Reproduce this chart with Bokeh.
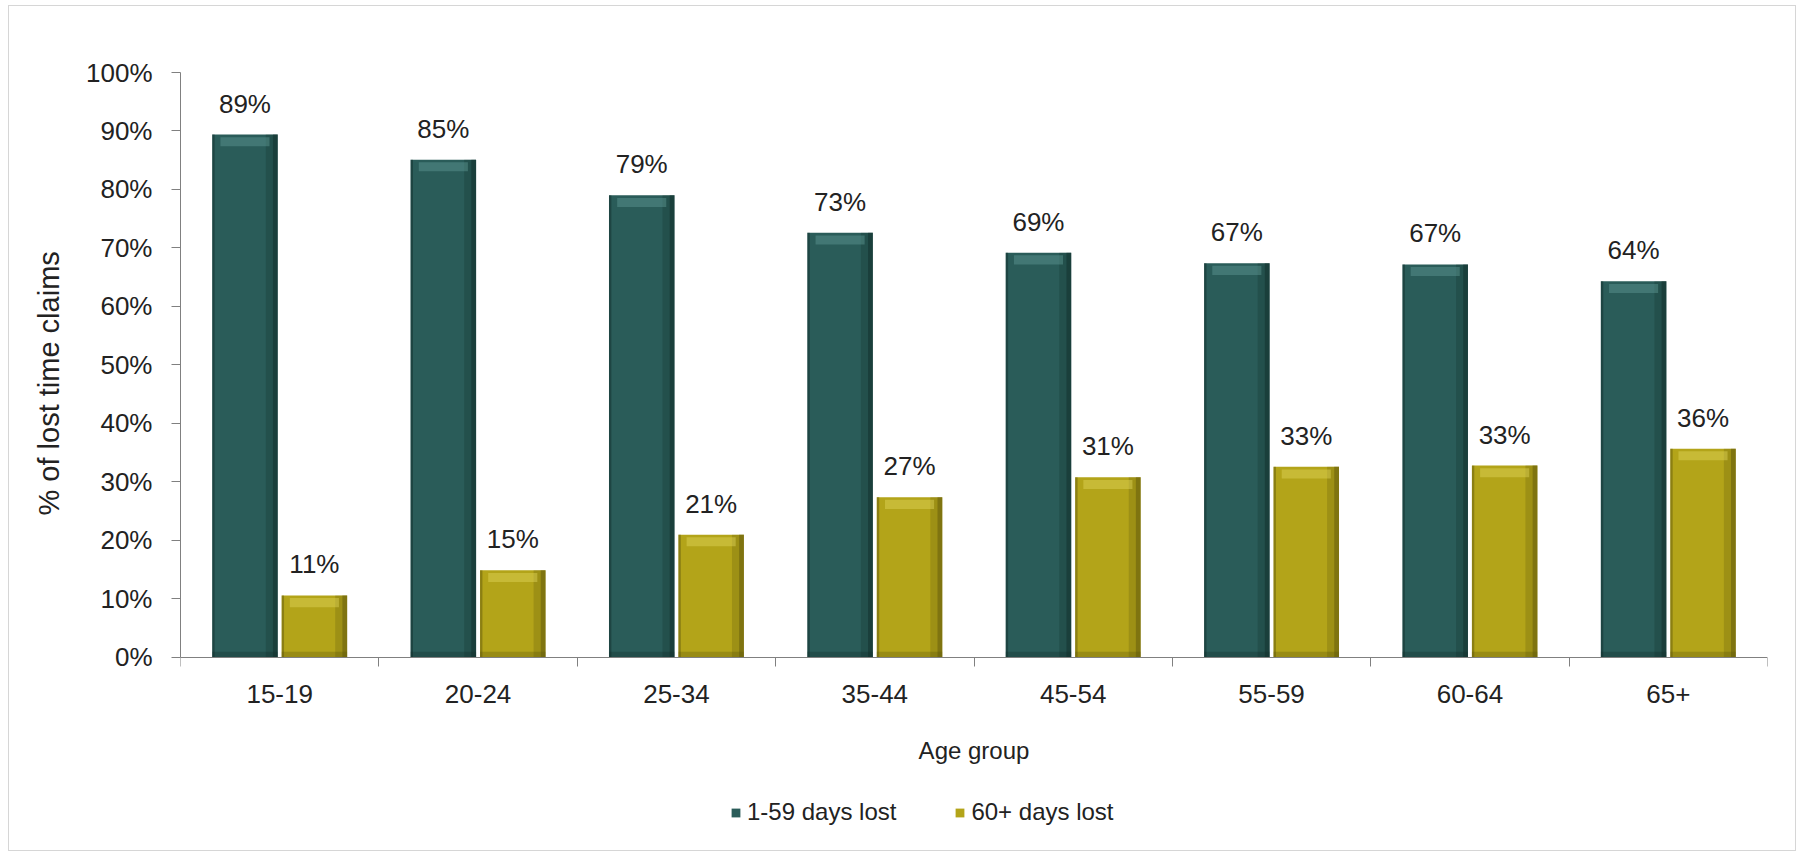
from bokeh.plotting import figure
from bokeh.models import (Range1d, FixedTicker, PrintfTickFormatter, Legend,
                          LegendItem, ColumnDataSource, Title)
from bokeh.transform import dodge
from bokeh.embed import file_html
from bokeh.resources import INLINE
from bokeh.core.properties import value

# ---- data ----
categories = ["15-19", "20-24", "25-34", "35-44", "45-54", "55-59", "60-64", "65+"]
short_loss = [89.4, 85.1, 79.0, 72.6, 69.2, 67.4, 67.2, 64.3]   # 1-59 days lost
long_loss = [10.6, 14.9, 21.0, 27.4, 30.8, 32.6, 32.8, 35.7]    # 60+ days lost
series_names = ["1-59 days lost", "60+ days lost"]
y_ticks = [0, 10, 20, 30, 40, 50, 60, 70, 80, 90, 100]
x_title = "Age group"
y_title = "% of lost time claims"

FONT = "Liberation Sans"
TXT = "#222222"
TEAL, TEAL_DARK, TEAL_LIGHT = "#2a5c59", "#0f2a28", "#5f9a95"
GOLD, GOLD_DARK, GOLD_LIGHT = "#b3a419", "#5a520a", "#e0d45a"

n = len(categories)
centers = [i + 0.5 for i in range(n)]

# frame spans page y 72..836; value 0 sits at page y 657 (585 px per 100 units)
p = figure(width=1788, height=846, output_backend="svg", toolbar_location=None,
           x_range=Range1d(0, n), y_range=Range1d(-30.6, 100),
           min_border_left=171, min_border_right=30,
           min_border_top=66, min_border_bottom=16)
p.styles = {"margin-left": "8px", "margin-top": "5px", "border": "1px solid #d6d6d6"}
p.outline_line_color = None
p.grid.grid_line_color = None
p.background_fill_color = "white"
p.border_fill_color = "white"

W = 0.33
OFF = 0.175


def draw_series(vals, offset, main, dark, light):
    src = ColumnDataSource(dict(
        x=centers, top=vals,
        hl_top=[v - 0.45 for v in vals], hl_bot=[v - 2.0 for v in vals],
        lab=["%d%%" % round(v) for v in vals]))
    r = p.vbar(x=dodge("x", offset, range=p.x_range), top="top", bottom=0, width=W,
               source=src, fill_color=main, line_color=None)
    # bevel shading: right edge
    p.vbar(x=dodge("x", offset + W / 2 - 0.03, range=p.x_range), top="top", bottom=0,
           width=0.06, source=src, fill_color=dark, fill_alpha=0.25, line_color=None)
    p.vbar(x=dodge("x", offset + W / 2 - 0.012, range=p.x_range), top="top", bottom=0,
           width=0.024, source=src, fill_color=dark, fill_alpha=0.45, line_color=None)
    # left edge
    p.vbar(x=dodge("x", offset - W / 2 + 0.006, range=p.x_range), top="top", bottom=0,
           width=0.012, source=src, fill_color=dark, fill_alpha=0.45, line_color=None)
    # bottom band
    p.vbar(x=dodge("x", offset, range=p.x_range), top=1.0, bottom=0, width=W,
           source=src, fill_color=dark, fill_alpha=0.3, line_color=None)
    # top highlight
    p.vbar(x=dodge("x", offset, range=p.x_range), top="hl_top", bottom="hl_bot",
           width=W * 0.75, source=src, fill_color=light, fill_alpha=0.45, line_color=None)
    p.text(x=dodge("x", offset, range=p.x_range), y="top", text="lab", source=src,
           text_align="center", text_baseline="bottom", y_offset=-16,
           text_font=value(FONT), text_font_size="26px", text_color=TXT)
    return r


r1 = draw_series(short_loss, -OFF, TEAL, TEAL_DARK, TEAL_LIGHT)
r2 = draw_series(long_loss, OFF, GOLD, GOLD_DARK, GOLD_LIGHT)

# ---- x axis: line and boundary ticks at value 0 ----
xa = p.xaxis[0]
xa.fixed_location = 0
xa.ticker = FixedTicker(ticks=[], minor_ticks=list(range(n + 1)))
xa.major_tick_line_color = None
xa.minor_tick_in = 0
xa.minor_tick_out = 9
xa.minor_tick_line_color = "#808080"
xa.axis_line_color = "#808080"
xa.major_label_standoff = 0

# category labels and x title under the axis line
cat_src = ColumnDataSource(dict(x=centers, y=[0] * n, text=categories))
p.text(x="x", y="y", text="text", source=cat_src, text_align="center",
       text_baseline="middle", y_offset=37, text_font=value(FONT),
       text_font_size="26px", text_color=TXT)
p.text(x=[n / 2], y=[0], text=[x_title], text_align="center",
       text_baseline="middle", y_offset=93, text_font=value(FONT),
       text_font_size="24px", text_color=TXT)

# ---- y axis ----
ya = p.yaxis[0]
ya.bounds = (0, 100)
ya.ticker = FixedTicker(ticks=y_ticks)
ya.formatter = PrintfTickFormatter(format="%d%%")
ya.minor_tick_line_color = None
ya.major_tick_in = 0
ya.major_tick_out = 9
ya.major_tick_line_color = "#808080"
ya.axis_line_color = "#808080"
ya.major_label_standoff = 19
ya.major_label_text_font = FONT
ya.major_label_text_font_size = "26px"
ya.major_label_text_color = TXT

ytitle = Title(text=y_title, align="left", offset=321, vertical_align="middle",
               standoff=36, text_font=FONT, text_font_size="29px",
               text_font_style="normal", text_color=TXT)
p.add_layout(ytitle, "left")

# ---- legend ----
legend = Legend(items=[LegendItem(label=series_names[0], renderers=[r1]),
                       LegendItem(label=series_names[1], renderers=[r2])],
                orientation="horizontal", location=(550, 10),
                glyph_width=11, glyph_height=11, label_standoff=6, spacing=58,
                padding=0, margin=0, border_line_color=None,
                background_fill_alpha=0,
                label_text_font=FONT, label_text_font_size="24px",
                label_text_color=TXT)
p.add_layout(legend, "center")

open("out.html", "w").write(file_html(p, INLINE))
